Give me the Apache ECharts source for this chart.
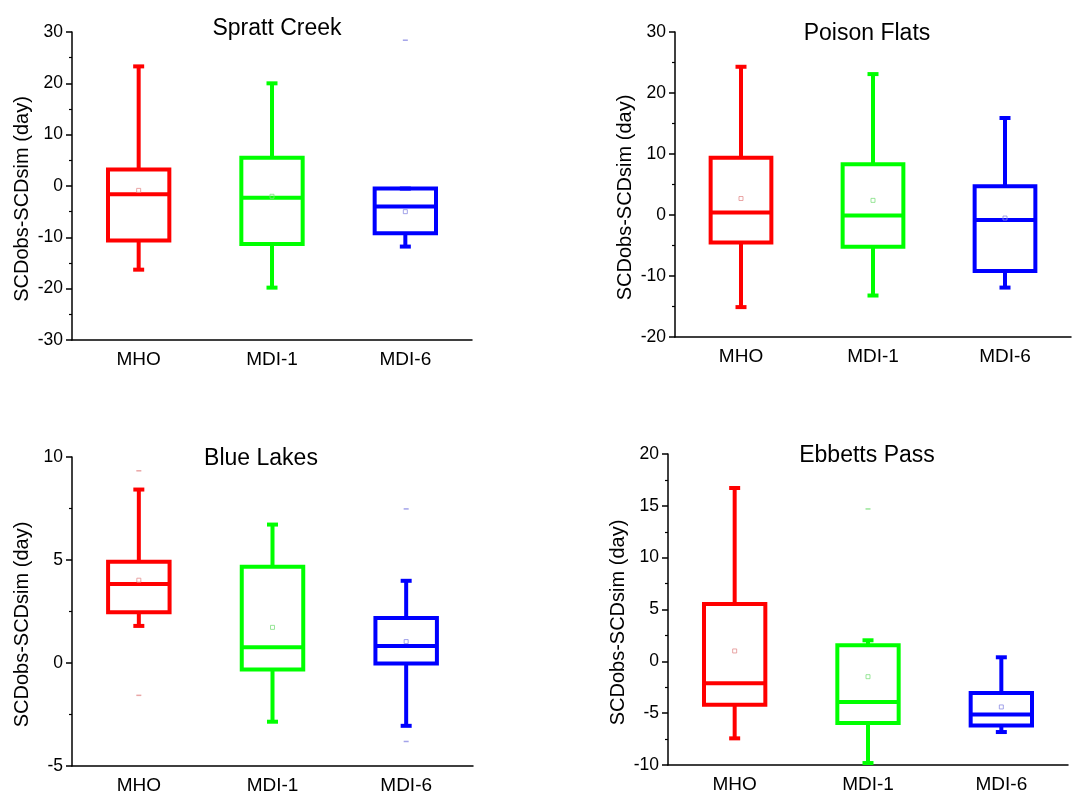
<!DOCTYPE html>
<html>
<head>
<meta charset="utf-8">
<script src="https://cdn.jsdelivr.net/npm/echarts@6/dist/echarts.min.js"></script>
<style>
html,body{margin:0;padding:0;background:#fff;}
#chart{width:1084px;height:796px;}
</style>
</head>
<body>
<div id="chart"></div>
<script>
// ---- data ----
const categories = ['MHO', 'MDI-1', 'MDI-6'];
const panelTitles = ['Spratt Creek', 'Poison Flats', 'Blue Lakes', 'Ebbetts Pass'];
const yAxisName = 'SCDobs-SCDsim (day)';

// [lowerWhisker, Q1, median, Q3, upperWhisker] per category
const sprattBoxes = [[-16.3, -10.6, -1.6, 3.2, 23.3], [-19.8, -11.3, -2.3, 5.5, 20.0], [-11.8, -9.2, -4.0, -0.5, -0.5]];
const sprattMeans = [-0.85, -2.0, -5.0];
const sprattExtremes = [[2, 28.4]];

const poisonBoxes = [[-15.1, -4.5, 0.4, 9.4, 24.3], [-13.2, -5.2, -0.1, 8.3, 23.1], [-11.9, -9.2, -0.8, 4.7, 15.9]];
const poisonMeans = [2.7, 2.4, -0.5];
const poisonExtremes = [];

const blueBoxes = [[1.80, 2.46, 3.84, 4.92, 8.42], [-2.85, -0.32, 0.76, 4.67, 6.72], [-3.05, -0.03, 0.83, 2.19, 3.99]];
const blueMeans = [4.02, 1.73, 1.04];
const blueExtremes = [[0, 9.33], [0, -1.57], [2, 7.48], [2, -3.81]];

const ebbettsBoxes = [[-7.43, -4.18, -2.12, 5.53, 16.72], [-9.81, -5.95, -3.92, 1.54, 2.03], [-6.82, -6.2, -5.14, -3.05, 0.39]];
const ebbettsMeans = [1.0, -1.48, -4.4];
const ebbettsExtremes = [[1, 14.7]];

const yMins = [-30, -20, -5, -10];
const yMaxs = [30, 30, 10, 20];
const yIntervals = [10, 10, 5, 5];

// ---- styles ----
const boxColors = ['#ff0000', '#00ff00', '#0000ff'];
const paleColors = ['#e49090', '#80e080', '#8c8ce4'];
const FONT = "'Liberation Sans', Arial, sans-serif";

const grids = [
  {left: 72, top: 32, width: 400, height: 308},
  {left: 675, top: 32, width: 396, height: 305},
  {left: 72, top: 457, width: 401, height: 309},
  {left: 668, top: 454, width: 400, height: 311}
];
const titlePos = [[272, 12], [862, 17], [256, 442], [862, 439]];

const allBoxes = [sprattBoxes, poisonBoxes, blueBoxes, ebbettsBoxes];
const allMeans = [sprattMeans, poisonMeans, blueMeans, ebbettsMeans];
const allExtremes = [sprattExtremes, poisonExtremes, blueExtremes, ebbettsExtremes];

function renderBox(params, api) {
  const c = api.value(0);
  const pMin = api.coord([c, api.value(1)]);
  const pQ1 = api.coord([c, api.value(2)]);
  const pMed = api.coord([c, api.value(3)]);
  const pQ3 = api.coord([c, api.value(4)]);
  const pMax = api.coord([c, api.value(5)]);
  const x = pMed[0];
  const w = api.size([1, 0])[0] * 0.46;
  const color = boxColors[c];
  const ls = {stroke: color, lineWidth: 4, fill: null};
  const cap = 5.5;
  return {
    type: 'group',
    children: [
      {type: 'line', shape: {x1: x, y1: pMax[1], x2: x, y2: pQ3[1]}, style: ls},
      {type: 'line', shape: {x1: x, y1: pQ1[1], x2: x, y2: pMin[1]}, style: ls},
      {type: 'line', shape: {x1: x - cap, y1: pMax[1], x2: x + cap, y2: pMax[1]}, style: ls},
      {type: 'line', shape: {x1: x - cap, y1: pMin[1], x2: x + cap, y2: pMin[1]}, style: ls},
      {type: 'rect', shape: {x: x - w / 2, y: pQ3[1], width: w, height: pQ1[1] - pQ3[1]}, style: {stroke: color, lineWidth: 4, fill: 'none'}},
      {type: 'line', shape: {x1: x - w / 2, y1: pMed[1], x2: x + w / 2, y2: pMed[1]}, style: ls}
    ]
  };
}

const option = {
  backgroundColor: '#fff',
  animation: false,
  title: panelTitles.map((t, i) => ({
    text: t, left: titlePos[i][0], top: titlePos[i][1], textAlign: 'center',
    textStyle: {fontFamily: FONT, fontSize: 23, fontWeight: 'normal', color: '#000'}
  })),
  grid: grids,
  xAxis: grids.map((g, i) => ({
    type: 'category', gridIndex: i, data: categories, boundaryGap: true,
    axisLine: {onZero: false, lineStyle: {color: '#000', width: 1.5}},
    axisTick: {alignWithLabel: true, length: 7, lineStyle: {color: '#000', width: 1.5}},
    axisLabel: {fontFamily: FONT, fontSize: 19, color: '#000', margin: 10},
    splitLine: {show: false}
  })),
  yAxis: grids.map((g, i) => ({
    type: 'value', gridIndex: i, min: yMins[i], max: yMaxs[i], interval: yIntervals[i],
    name: yAxisName, nameLocation: 'middle', nameGap: 40,
    nameTextStyle: {fontFamily: FONT, fontSize: 20, color: '#000', padding: [0, 26, 0, 0]},
    axisLine: {show: true, onZero: false, lineStyle: {color: '#000', width: 1.5}},
    axisTick: {show: true, length: 6, lineStyle: {color: '#000', width: 1.5}},
    minorTick: {show: true, splitNumber: 2, length: 3, lineStyle: {color: '#000', width: 1.2}},
    axisLabel: {fontFamily: FONT, fontSize: 17.5, color: '#000', margin: 9},
    splitLine: {show: false}
  })),
  series: []
};

for (let i = 0; i < 4; i++) {
  option.series.push({
    type: 'custom', xAxisIndex: i, yAxisIndex: i,
    renderItem: renderBox,
    data: allBoxes[i].map((b, c) => [c].concat(b)),
    z: 2
  });
  option.series.push({
    type: 'scatter', xAxisIndex: i, yAxisIndex: i,
    symbol: 'rect', symbolSize: 4,
    data: allMeans[i].map((m, c) => ({
      value: [c, m],
      itemStyle: {color: 'rgba(255,255,255,0)', borderColor: paleColors[c], borderWidth: 1}
    })),
    z: 3
  });
  option.series.push({
    type: 'scatter', xAxisIndex: i, yAxisIndex: i,
    symbol: 'rect', symbolSize: [5, 1.5],
    data: allExtremes[i].map(e => ({value: e, itemStyle: {color: paleColors[e[0]]}})),
    z: 3
  });
}

const chart = echarts.init(document.getElementById('chart'), null, {renderer: 'canvas'});
chart.setOption(option);
</script>
</body>
</html>
